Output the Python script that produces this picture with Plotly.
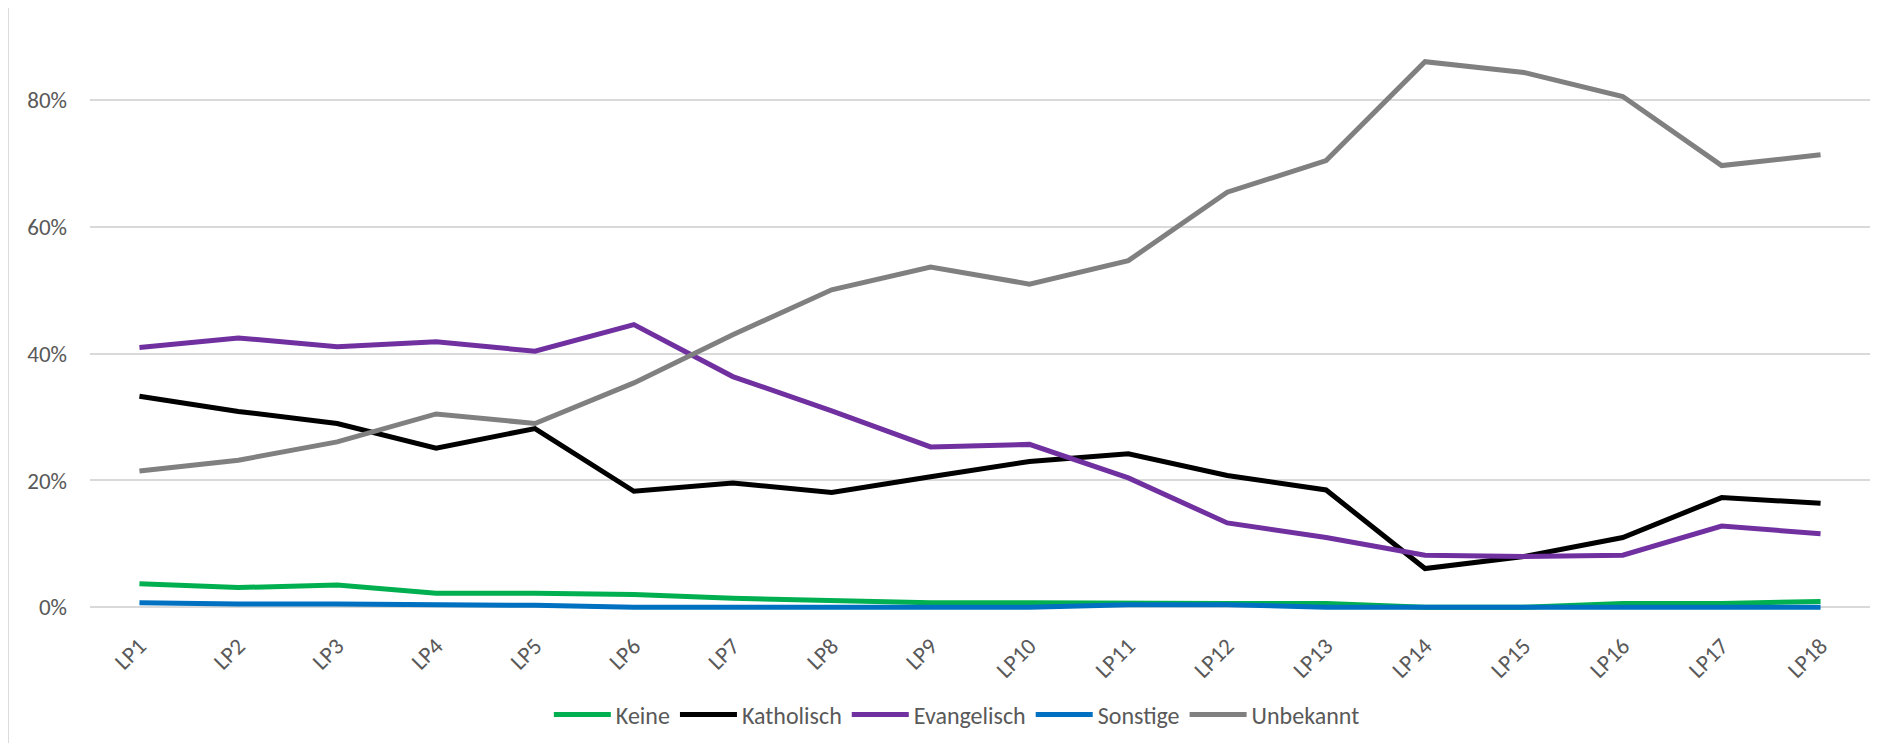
import plotly.graph_objects as go

categories = [f"LP{i}" for i in range(1, 19)]

keine = [0.037, 0.031, 0.035, 0.022, 0.022, 0.020, 0.014, 0.011, 0.007, 0.007,
         0.006, 0.006, 0.006, 0.000, 0.000, 0.006, 0.006, 0.009]
katholisch = [0.333, 0.309, 0.290, 0.251, 0.282, 0.183, 0.196, 0.181, 0.206, 0.230,
              0.242, 0.208, 0.185, 0.061, 0.080, 0.110, 0.173, 0.164]
evangelisch = [0.410, 0.425, 0.411, 0.419, 0.404, 0.446, 0.364, 0.310, 0.253, 0.257,
               0.204, 0.133, 0.110, 0.082, 0.080, 0.082, 0.128, 0.116]
sonstige = [0.007, 0.005, 0.005, 0.004, 0.003, 0.000, 0.000, 0.000, 0.000, 0.000,
            0.004, 0.004, 0.000, 0.000, 0.000, 0.000, 0.000, 0.000]
unbekannt = [0.215, 0.232, 0.261, 0.305, 0.290, 0.354, 0.430, 0.501, 0.537, 0.510,
             0.547, 0.655, 0.705, 0.861, 0.844, 0.806, 0.697, 0.714]

series_names = ["Keine", "Katholisch", "Evangelisch", "Sonstige", "Unbekannt"]
series_values = [keine, katholisch, evangelisch, sonstige, unbekannt]
series_colors = ["#00B050", "#000000", "#7030A0", "#0070C0", "#808080"]

y_tick_values = [0, 0.2, 0.4, 0.6, 0.8]

FONT = "Carlito, Calibri, Lato, sans-serif"
TXT = "#595959"
GRID = "#D9D9D9"

fig = go.Figure()
for name, vals, col in zip(series_names, series_values, series_colors):
    fig.add_trace(go.Scatter(
        x=categories, y=vals, name=name, mode="lines",
        line=dict(color=col, width=5),
    ))

fig.update_layout(
    width=1876, height=735,
    margin=dict(l=82, r=14, t=29, b=132, autoexpand=False),
    paper_bgcolor="white", plot_bgcolor="white",
    font=dict(family=FONT, size=24, color=TXT),
    showlegend=True,
    legend=dict(
        orientation="h", x=0.487, xanchor="center", y=-0.181, yanchor="middle",
        font=dict(family=FONT, size=24, color=TXT),
        bgcolor="rgba(0,0,0,0)", itemwidth=57,
    ),
    xaxis=dict(
        type="category", range=[-0.5, 17.5], showgrid=False, zeroline=False,
        showline=False, tickangle=-45, ticks="", ticklabelstandoff=16,
        automargin=False,
        tickfont=dict(family=FONT, size=23, color=TXT),
    ),
    yaxis=dict(
        range=[-0.006, 0.9], tickvals=y_tick_values, tickformat=".0%",
        showgrid=True, gridcolor=GRID, gridwidth=2,
        zeroline=True, zerolinecolor=GRID, zerolinewidth=2,
        showline=False, ticks="", ticklabelstandoff=22, automargin=False,
        tickfont=dict(family=FONT, size=23, color=TXT),
    ),
    shapes=[dict(
        type="rect", xref="paper", yref="paper",
        x0=-0.0461, x1=1.02, y0=-0.27, y1=1.0523,
        line=dict(color=GRID, width=2), fillcolor="rgba(0,0,0,0)", layer="below",
    )],
)

fig.write_html("out.html")
